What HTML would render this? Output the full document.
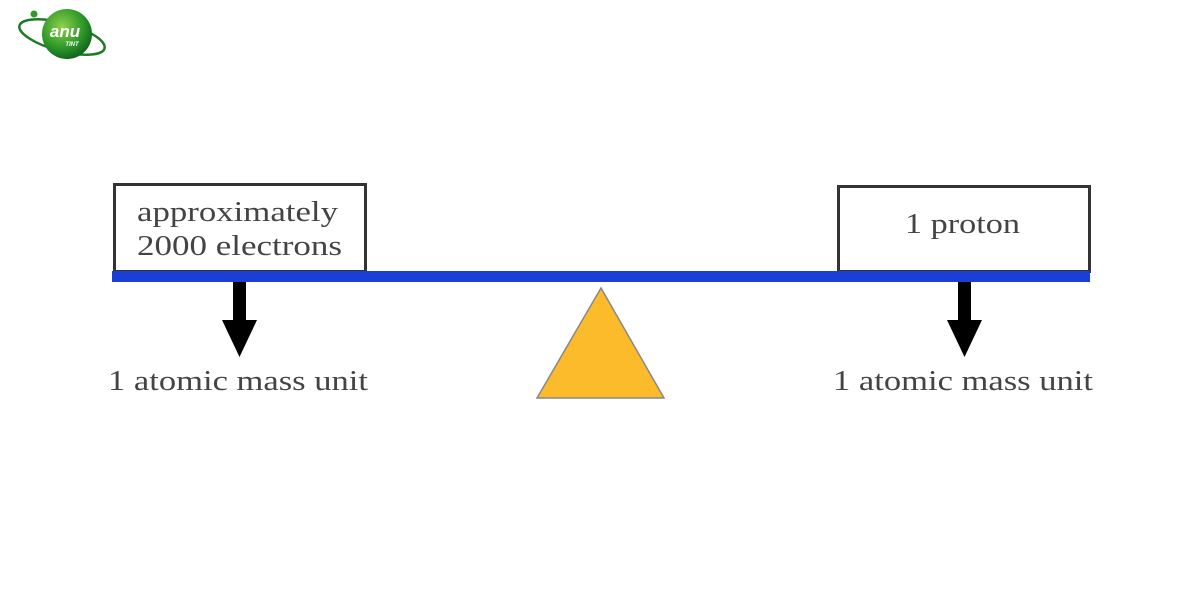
<!DOCTYPE html>
<html><head><style>
body{margin:0;background:#fff;width:1201px;height:601px;overflow:hidden}
</style></head><body>
<svg width="1201" height="601" xmlns="http://www.w3.org/2000/svg" style="position:absolute;left:0;top:0">
<defs><radialGradient id="g" cx="0.4" cy="0.35" r="0.7"><stop offset="0" stop-color="#8fd04a"/><stop offset="0.6" stop-color="#2e9a2a"/><stop offset="1" stop-color="#0f5e1a"/></radialGradient></defs>
<ellipse cx="62" cy="37" rx="44" ry="14" transform="rotate(15 62 37)" fill="none" stroke="#1f7a25" stroke-width="2.5"/>
<circle cx="34" cy="14" r="3.5" fill="#2e9a2a"/>
<circle cx="67" cy="34" r="25" fill="url(#g)"/>
<text x="65" y="37" font-family="Liberation Sans, sans-serif" font-size="17" font-weight="bold" font-style="italic" fill="#fff" text-anchor="middle">anu</text>
<text x="72" y="46" font-family="Liberation Sans, sans-serif" font-size="6" font-weight="bold" font-style="italic" fill="#fff" text-anchor="middle">TINT</text>

<rect x="114.5" y="184.5" width="251" height="87" fill="#fff" stroke="#333" stroke-width="3"/>
<rect x="838.5" y="186.5" width="251" height="85" fill="#fff" stroke="#333" stroke-width="3"/>
<rect x="112" y="271" width="978" height="11" fill="#1a3fd6"/>
<g font-family="Liberation Serif, serif" font-size="29" fill="#444" lengthAdjust="spacingAndGlyphs">
<text x="137" y="221" textLength="201" lengthAdjust="spacingAndGlyphs">approximately</text>
<text x="137" y="255" textLength="205" lengthAdjust="spacingAndGlyphs">2000 electrons</text>
<text x="905" y="233" textLength="115" lengthAdjust="spacingAndGlyphs">1 proton</text>
<text x="108" y="390" textLength="260" lengthAdjust="spacingAndGlyphs">1 atomic mass unit</text>
<text x="833" y="390" textLength="260" lengthAdjust="spacingAndGlyphs">1 atomic mass unit</text>
</g>
<rect x="233" y="282" width="13" height="40" fill="#000"/>
<polygon points="222,320 257,320 239.5,357" fill="#000"/>
<rect x="958" y="282" width="13" height="40" fill="#000"/>
<polygon points="947,320 982,320 964.5,357" fill="#000"/>
<polygon points="601,288 664,398 537,398" fill="#fbbb2b" stroke="#888" stroke-width="1.5"/>
</svg>
</body></html>
